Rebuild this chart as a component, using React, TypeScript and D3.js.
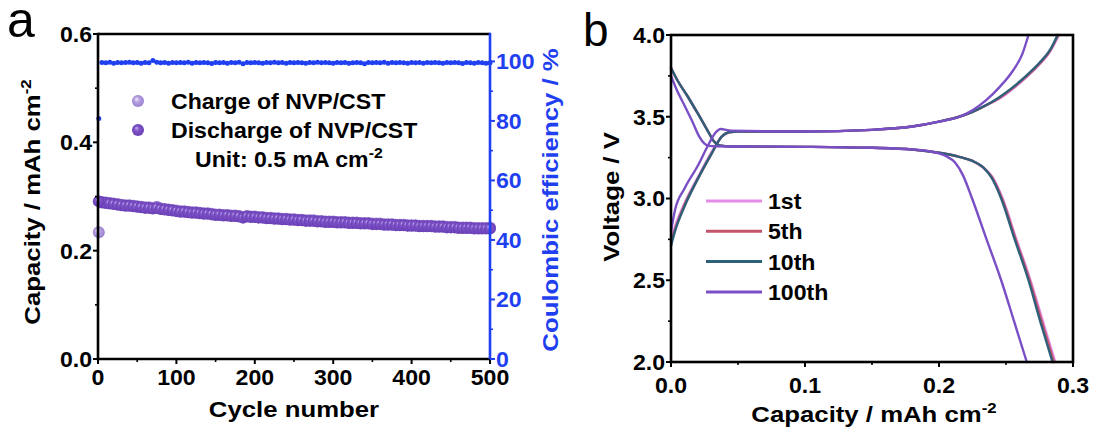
import React from "react";
import * as d3 from "d3";

// ---------- Panel a data ----------
const cycleStep = 5;
const cycles: number[] = [1, ...d3.range(cycleStep, 501, cycleStep)];

const chargeCap: number[] = [
  0.234,
  0.290, 0.289, 0.288, 0.287, 0.286, 0.285, 0.284, 0.284, 0.283, 0.282,
  0.281, 0.280, 0.280, 0.279, 0.281, 0.278, 0.277, 0.276, 0.275, 0.274,
  0.273, 0.273, 0.272, 0.271, 0.271, 0.270, 0.269, 0.269, 0.268, 0.267,
  0.267, 0.266, 0.266, 0.265, 0.265, 0.264, 0.262, 0.264, 0.263, 0.263,
  0.262, 0.262, 0.261, 0.261, 0.260, 0.260, 0.259, 0.259, 0.258, 0.258,
  0.257, 0.257, 0.256, 0.256, 0.256, 0.255, 0.255, 0.254, 0.254, 0.254,
  0.253, 0.253, 0.253, 0.252, 0.252, 0.252, 0.251, 0.251, 0.251, 0.250,
  0.250, 0.250, 0.249, 0.249, 0.249, 0.248, 0.248, 0.248, 0.247, 0.247,
  0.247, 0.246, 0.246, 0.246, 0.246, 0.245, 0.245, 0.245, 0.244, 0.244,
  0.244, 0.243, 0.243, 0.243, 0.243, 0.242, 0.242, 0.242, 0.242, 0.243,
];

const dischargeCap: number[] = [
  0.291,
  0.289, 0.288, 0.287, 0.286, 0.285, 0.284, 0.283, 0.283, 0.282, 0.281,
  0.280, 0.279, 0.279, 0.278, 0.279, 0.277, 0.276, 0.275, 0.274, 0.273,
  0.272, 0.272, 0.271, 0.270, 0.270, 0.269, 0.268, 0.268, 0.267, 0.266,
  0.266, 0.265, 0.265, 0.264, 0.264, 0.263, 0.261, 0.263, 0.262, 0.262,
  0.261, 0.261, 0.260, 0.260, 0.259, 0.259, 0.258, 0.258, 0.257, 0.257,
  0.256, 0.256, 0.255, 0.255, 0.255, 0.254, 0.254, 0.253, 0.253, 0.253,
  0.252, 0.252, 0.252, 0.251, 0.251, 0.251, 0.250, 0.250, 0.250, 0.249,
  0.249, 0.249, 0.248, 0.248, 0.248, 0.247, 0.247, 0.247, 0.246, 0.246,
  0.246, 0.245, 0.245, 0.245, 0.245, 0.244, 0.244, 0.244, 0.243, 0.243,
  0.243, 0.242, 0.242, 0.242, 0.242, 0.241, 0.241, 0.241, 0.241, 0.241,
];

const coulombicEff: number[] = [
  80.8,
  99.6, 99.5, 99.7, 99.4, 99.6, 99.5, 99.6, 99.7, 99.5, 99.6,
  99.4, 99.6, 99.5, 100.3, 99.7, 99.5, 99.6, 99.4, 99.6, 99.5,
  99.6, 99.5, 99.7, 99.4, 99.6, 99.5, 99.6, 99.5, 99.3, 99.6,
  99.5, 99.6, 99.4, 99.6, 99.5, 99.7, 99.2, 99.6, 99.5, 99.6,
  99.5, 99.4, 99.6, 99.5, 99.7, 99.5, 99.6, 99.4, 99.6, 99.5,
  99.6, 99.5, 99.4, 99.6, 99.5, 99.7, 99.5, 99.6, 99.5, 99.4,
  99.6, 99.5, 99.6, 99.4, 99.5, 99.6, 99.5, 99.2, 99.6, 99.5,
  99.6, 99.5, 99.7, 99.4, 99.6, 99.5, 99.6, 99.5, 99.4, 99.6,
  99.5, 99.6, 99.4, 99.6, 99.5, 99.6, 99.5, 99.4, 99.6, 99.5,
  99.6, 99.5, 99.3, 99.6, 99.5, 99.4, 99.6, 99.5, 99.4, 99.5,
];

const capTicks = [0, 0.2, 0.4, 0.6];
const capMinor = [0.1, 0.3, 0.5];
const cycleTicks = [0, 100, 200, 300, 400, 500];
const cycleMinor = [50, 150, 250, 350, 450];
const ceTicks = [0, 20, 40, 60, 80, 100];
const ceMinor = [10, 30, 50, 70, 90];

// ---------- Panel b data (capacity mAh cm-2, voltage V) ----------
const charge1st: [number, number][] = [
  [0, 2.75], [0.003, 2.83], [0.01, 2.97], [0.02, 3.13], [0.03, 3.28], [0.038, 3.38],
  [0.044, 3.405], [0.05, 3.41], [0.1, 3.41], [0.15, 3.42], [0.18, 3.44], [0.2, 3.47],
  [0.215, 3.5], [0.225, 3.53], [0.235, 3.57], [0.245, 3.61], [0.255, 3.67], [0.265, 3.74],
  [0.275, 3.82], [0.283, 3.9], [0.2895, 4.0],
];
const discharge1st: [number, number][] = [
  [0, 3.79], [0.005, 3.72], [0.012, 3.63], [0.02, 3.52], [0.027, 3.42], [0.032, 3.35],
  [0.036, 3.325], [0.045, 3.318], [0.1, 3.316], [0.15, 3.31], [0.18, 3.3], [0.2, 3.28],
  [0.215, 3.255], [0.225, 3.23], [0.233, 3.19], [0.24, 3.13], [0.2475, 3.0], [0.2578, 2.75],
  [0.2683, 2.5], [0.2775, 2.25], [0.2868, 2.0],
];
const charge5th: [number, number][] = [
  [0, 2.73], [0.003, 2.81], [0.01, 2.96], [0.02, 3.12], [0.03, 3.27], [0.038, 3.38],
  [0.043, 3.405], [0.05, 3.41], [0.1, 3.41], [0.15, 3.42], [0.18, 3.44], [0.2, 3.47],
  [0.215, 3.5], [0.225, 3.53], [0.235, 3.57], [0.245, 3.615], [0.255, 3.675], [0.265, 3.745],
  [0.275, 3.825], [0.283, 3.905], [0.289, 4.0],
];
const discharge5th: [number, number][] = [
  [0, 3.8], [0.005, 3.72], [0.012, 3.63], [0.02, 3.52], [0.027, 3.42], [0.032, 3.35],
  [0.036, 3.325], [0.045, 3.318], [0.1, 3.316], [0.15, 3.31], [0.18, 3.3], [0.2, 3.28],
  [0.215, 3.255], [0.225, 3.23], [0.233, 3.19], [0.2395, 3.13], [0.247, 3.0], [0.2572, 2.75],
  [0.2676, 2.5], [0.2766, 2.25], [0.2858, 2.0],
];
const charge10th: [number, number][] = [
  [0, 2.71], [0.003, 2.8], [0.01, 2.95], [0.02, 3.12], [0.03, 3.27], [0.038, 3.38],
  [0.043, 3.405], [0.05, 3.41], [0.1, 3.41], [0.15, 3.42], [0.18, 3.44], [0.2, 3.47],
  [0.215, 3.5], [0.225, 3.53], [0.235, 3.57], [0.245, 3.62], [0.255, 3.68], [0.265, 3.75],
  [0.275, 3.83], [0.283, 3.91], [0.2885, 4.0],
];
const discharge10th: [number, number][] = [
  [0, 3.8], [0.005, 3.72], [0.012, 3.63], [0.02, 3.52], [0.027, 3.42], [0.032, 3.35],
  [0.036, 3.325], [0.045, 3.318], [0.1, 3.316], [0.15, 3.31], [0.18, 3.3], [0.2, 3.28],
  [0.215, 3.255], [0.225, 3.23], [0.233, 3.19], [0.239, 3.13], [0.2464, 3.0], [0.2565, 2.75],
  [0.2668, 2.5], [0.2755, 2.25], [0.2847, 2.0],
];
const charge100th: [number, number][] = [
  [0, 2.8], [0.003, 2.93], [0.01, 3.06], [0.02, 3.2], [0.028, 3.33], [0.033, 3.4],
  [0.037, 3.425], [0.045, 3.415], [0.1, 3.41], [0.15, 3.42], [0.18, 3.44], [0.2, 3.47],
  [0.215, 3.5], [0.225, 3.54], [0.235, 3.6], [0.245, 3.68], [0.255, 3.78], [0.262, 3.88],
  [0.2668, 4.0],
];
const discharge100th: [number, number][] = [
  [0, 3.75], [0.004, 3.67], [0.01, 3.57], [0.016, 3.47], [0.021, 3.38], [0.025, 3.335],
  [0.028, 3.322], [0.04, 3.318], [0.1, 3.316], [0.15, 3.31], [0.18, 3.3], [0.195, 3.285],
  [0.205, 3.26], [0.212, 3.22], [0.218, 3.14], [0.2247, 3.0], [0.2355, 2.75], [0.2464, 2.5],
  [0.256, 2.25], [0.2655, 2.0],
];

const cycleLabels = ["1st", "5th", "10th", "100th"];
const cycleColors = ["#e38de8", "#c2546c", "#2f6079", "#7a4fc6"];
const chargeCurves = [charge1st, charge5th, charge10th, charge100th];
const dischargeCurves = [discharge1st, discharge5th, discharge10th, discharge100th];

const voltTicks = [2.0, 2.5, 3.0, 3.5, 4.0];
const voltMinor = [2.25, 2.75, 3.25, 3.75];
const capBTicks = [0, 0.1, 0.2, 0.3];
const capBMinor = [0.05, 0.15, 0.25];

const FONT = "'Liberation Sans', Arial, Helvetica, sans-serif";
const BLUE = "#1f3ff0";

type TProps = {
  x: number;
  y: number;
  rot?: number;
  sx?: number;
  anchor?: "start" | "middle" | "end";
  size: number;
  fill?: string;
  dy?: string;
  bold?: boolean;
  children: React.ReactNode;
};

function T({ x, y, rot = 0, sx = 1, anchor = "start", size, fill = "#000", dy, bold = true, children }: TProps) {
  return (
    <g transform={`translate(${x},${y}) rotate(${rot}) scale(${sx},1)`}>
      <text
        x={0}
        y={0}
        dy={dy}
        textAnchor={anchor}
        fontSize={size}
        fontWeight={bold ? "bold" : "normal"}
        fill={fill}
        fontFamily={FONT}
      >
        {children}
      </text>
    </g>
  );
}

export default function App() {
  // Panel a scales
  const ax = d3.scaleLinear().domain([0, 500]).range([98, 490]);
  const ay = d3.scaleLinear().domain([0, 0.6]).range([359, 34]);
  const ayR = d3.scaleLinear().domain([0, 109.2]).range([359, 34]);

  // Panel b scales
  const bx = d3.scaleLinear().domain([0, 0.3]).range([671, 1073]);
  const by = d3.scaleLinear().domain([2.0, 4.0]).range([362, 35]);

  const line = d3
    .line<[number, number]>()
    .x((d) => bx(d[0]))
    .y((d) => by(d[1]))
    .curve(d3.curveMonotoneX);

  const axisW = 2.6;
  const tickFs = 22;
  const tickSx = 1.05;
  const titleFs = 23;
  const titleSx = 1.12;
  const supFs = 15;
  const legFs = 22;
  const legSx = 1.05;
  const capR = 6;

  return (
    <svg
      width={1097}
      height={437}
      style={{ position: "absolute", left: 0, top: 0, background: "#fff" }}
      fontFamily={FONT}
    >
      <defs>
        <radialGradient id="gCharge" cx="0.5" cy="0.5" r="0.5" fx="0.35" fy="0.32">
          <stop offset="0%" stopColor="#f4eefc" />
          <stop offset="45%" stopColor="#b7a0e0" />
          <stop offset="100%" stopColor="#9a80cf" />
        </radialGradient>
        <radialGradient id="gDischarge" cx="0.5" cy="0.5" r="0.5" fx="0.35" fy="0.32">
          <stop offset="0%" stopColor="#c9b4ee" />
          <stop offset="40%" stopColor="#8055c9" />
          <stop offset="100%" stopColor="#6a3fb6" />
        </radialGradient>
      </defs>

      {/* ================= Panel a ================= */}
      <T x={7} y={37} size={50} bold={false}>a</T>

      {/* data: CE */}
      <g>
        {cycles.map((c, i) => (
          <circle key={"ce" + i} cx={ax(c)} cy={ayR(coulombicEff[i])} r={2.5} fill={BLUE} />
        ))}
      </g>
      {/* data: capacity */}
      <g>
        {cycles.map((c, i) => (
          <circle key={"ch" + i} cx={ax(c)} cy={ay(chargeCap[i])} r={capR} fill="url(#gCharge)" />
        ))}
        {cycles.map((c, i) =>
          i === 0 ? null : (
            <circle key={"dc" + i} cx={ax(c)} cy={ay(dischargeCap[i])} r={capR} fill="url(#gDischarge)" />
          )
        )}
        <circle cx={ax(cycles[0])} cy={ay(dischargeCap[0])} r={capR} fill="url(#gDischarge)" />
      </g>

      {/* axes a */}
      <line x1={ax(0)} x2={ax(500)} y1={ay(0.6)} y2={ay(0.6)} stroke="#000" strokeWidth={axisW} />
      <line x1={ax(0)} x2={ax(500)} y1={ay(0)} y2={ay(0)} stroke="#000" strokeWidth={axisW} />
      <line x1={ax(0)} x2={ax(0)} y1={ay(0) + 1.3} y2={ay(0.6) - 1.3} stroke="#000" strokeWidth={axisW} />
      <line x1={ax(500)} x2={ax(500)} y1={ay(0) + 1.3} y2={ay(0.6) - 1.3} stroke={BLUE} strokeWidth={axisW} />

      {capTicks.map((t) => (
        <g key={"ct" + t}>
          <line x1={ax(0) - 5} x2={ax(0)} y1={ay(t)} y2={ay(t)} stroke="#000" strokeWidth={2} />
          <T x={ax(0) - 6} y={ay(t)} dy="0.36em" anchor="end" size={tickFs} sx={tickSx}>
            {t.toFixed(1)}
          </T>
        </g>
      ))}
      {capMinor.map((t) => (
        <line key={"cm" + t} x1={ax(0) - 3} x2={ax(0)} y1={ay(t)} y2={ay(t)} stroke="#000" strokeWidth={1.6} />
      ))}
      {cycleTicks.map((t) => (
        <g key={"xt" + t}>
          <line x1={ax(t)} x2={ax(t)} y1={ay(0)} y2={ay(0) + 5} stroke="#000" strokeWidth={2} />
          <T x={ax(t)} y={385} anchor="middle" size={tickFs} sx={tickSx}>
            {t}
          </T>
        </g>
      ))}
      {cycleMinor.map((t) => (
        <line key={"xm" + t} x1={ax(t)} x2={ax(t)} y1={ay(0)} y2={ay(0) + 3} stroke="#000" strokeWidth={1.6} />
      ))}
      {ceTicks.map((t) => (
        <g key={"rt" + t}>
          <line x1={ax(500)} x2={ax(500) + 5} y1={ayR(t)} y2={ayR(t)} stroke={BLUE} strokeWidth={2} />
          <T x={ax(500) + 6} y={ayR(t)} dy="0.36em" anchor="start" size={tickFs} sx={tickSx} fill={BLUE}>
            {t}
          </T>
        </g>
      ))}
      {ceMinor.map((t) => (
        <line key={"rm" + t} x1={ax(500)} x2={ax(500) + 3} y1={ayR(t)} y2={ayR(t)} stroke={BLUE} strokeWidth={1.6} />
      ))}

      {/* axis titles a */}
      <T x={294} y={417} anchor="middle" size={titleFs} sx={titleSx}>Cycle number</T>
      <T x={40} y={202} rot={-90} anchor="middle" size={titleFs} sx={titleSx}>
        Capacity / mAh cm<tspan dy="-9" fontSize={supFs}>-2</tspan>
      </T>
      <T x={558} y={200} rot={-90} anchor="middle" size={titleFs} sx={titleSx} fill={BLUE}>
        Coulombic efficiency / %
      </T>

      {/* legend a */}
      <circle cx={138} cy={101} r={6} fill="url(#gCharge)" />
      <circle cx={138} cy={130} r={6} fill="url(#gDischarge)" />
      <T x={171} y={109} size={legFs} sx={legSx}>Charge of NVP/CST</T>
      <T x={171} y={138} size={legFs} sx={legSx}>Discharge of NVP/CST</T>
      <T x={195} y={167} size={legFs} sx={legSx}>
        Unit: 0.5 mA cm<tspan dy="-9" fontSize={supFs}>-2</tspan>
      </T>

      {/* ================= Panel b ================= */}
      <T x={583} y={46} size={46} bold={false}>b</T>

      <g fill="none" strokeWidth={2.4} strokeLinejoin="round" strokeLinecap="round">
        {cycleLabels.map((lab, i) => (
          <g key={"curve" + lab} stroke={cycleColors[i]}>
            <path d={line(chargeCurves[i]) || ""} />
            <path d={line(dischargeCurves[i]) || ""} />
          </g>
        ))}
      </g>

      <rect x={bx(0)} y={by(4)} width={bx(0.3) - bx(0)} height={by(2) - by(4)} fill="none" stroke="#000" strokeWidth={axisW} />
      {voltTicks.map((t) => (
        <g key={"vt" + t}>
          <line x1={bx(0) - 5} x2={bx(0)} y1={by(t)} y2={by(t)} stroke="#000" strokeWidth={2} />
          <T x={bx(0) - 6} y={by(t)} dy="0.36em" anchor="end" size={tickFs} sx={tickSx}>
            {t.toFixed(1)}
          </T>
        </g>
      ))}
      {voltMinor.map((t) => (
        <line key={"vm" + t} x1={bx(0) - 3} x2={bx(0)} y1={by(t)} y2={by(t)} stroke="#000" strokeWidth={1.6} />
      ))}
      {capBTicks.map((t) => (
        <g key={"bt" + t}>
          <line x1={bx(t)} x2={bx(t)} y1={by(2)} y2={by(2) + 5} stroke="#000" strokeWidth={2} />
          <T x={bx(t)} y={393} anchor="middle" size={tickFs} sx={tickSx}>
            {t.toFixed(1)}
          </T>
        </g>
      ))}
      {capBMinor.map((t) => (
        <line key={"bm" + t} x1={bx(t)} x2={bx(t)} y1={by(2)} y2={by(2) + 3} stroke="#000" strokeWidth={1.6} />
      ))}

      <T x={874} y={422} anchor="middle" size={titleFs} sx={titleSx}>
        Capacity / mAh cm<tspan dy="-9" fontSize={supFs}>-2</tspan>
      </T>
      <T x={619} y={197} rot={-90} anchor="middle" size={titleFs} sx={titleSx}>
        Voltage / V
      </T>

      {/* legend b */}
      {cycleLabels.map((lab, i) => (
        <g key={"lg" + lab}>
          <line x1={706} x2={762} y1={201 + i * 30.3} y2={201 + i * 30.3} stroke={cycleColors[i]} strokeWidth={3} />
          <T x={768} y={201 + i * 30.3} dy="0.36em" size={legFs} sx={legSx}>
            {lab}
          </T>
        </g>
      ))}
    </svg>
  );
}
